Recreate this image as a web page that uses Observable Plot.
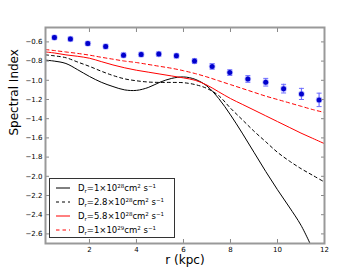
<!DOCTYPE html>
<html><head><meta charset="utf-8">
<script src="https://cdn.jsdelivr.net/npm/d3@7"></script>
<script src="https://cdn.jsdelivr.net/npm/@observablehq/plot@0.6"></script>
<style>
body{margin:0;background:#fff;}
#wrap{position:relative;width:360px;height:270px;font-family:"DejaVu Sans",sans-serif;}
#legend{position:absolute;left:49px;top:178px;width:126px;height:60px;border:1px solid #333;background:#fff;box-sizing:border-box;font-size:8.5px;color:#000;}
.row{position:absolute;left:0;height:12px;width:124px;}
.row svg{position:absolute;left:6px;top:5px;}
.row span{position:absolute;left:28px;top:0px;line-height:12px;white-space:nowrap;}
sub,sup{font-size:5.5px;line-height:0;}
sub{vertical-align:-1.5px;} sup{vertical-align:3.5px;}
</style></head>
<body><div id="wrap"></div>
<script>
// Observed spectral index points
const obsR = [0.51,1.19,1.93,2.69,3.45,4.20,4.95,5.70,6.47,7.22,7.97,8.74,9.50,10.26,11.02,11.77];
const obsIndex = [-0.555,-0.57,-0.617,-0.648,-0.738,-0.731,-0.727,-0.745,-0.80,-0.855,-0.92,-0.986,-1.02,-1.087,-1.142,-1.204];
const obsErr = [0.02,0.02,0.02,0.022,0.022,0.022,0.022,0.022,0.025,0.03,0.03,0.035,0.04,0.045,0.058,0.07];

// Model curves (radius grid)
const modelR = [0.13,0.5,1,1.5,2,2.5,3,3.5,4,4.5,5,5.5,6,6.5,7,7.5,8,8.5,9,9.5,10,10.5,11,11.5,12];
const model1e28 = [-0.79,-0.80,-0.825,-0.89,-0.96,-1.02,-1.065,-1.10,-1.105,-1.075,-1.02,-0.98,-0.965,-0.99,-1.06,-1.19,-1.36,-1.55,-1.75,-1.95,-2.14,-2.32,-2.51,-2.76,null];
const model2_8e28 = [-0.735,-0.745,-0.765,-0.81,-0.855,-0.905,-0.95,-0.985,-1.005,-1.018,-1.022,-1.022,-1.025,-1.045,-1.085,-1.16,-1.29,-1.41,-1.53,-1.64,-1.75,-1.84,-1.92,-1.99,-2.06];
const model5_8e28 = [-0.705,-0.715,-0.735,-0.75,-0.77,-0.805,-0.84,-0.87,-0.895,-0.915,-0.935,-0.955,-0.975,-1.0,-1.05,-1.12,-1.19,-1.25,-1.31,-1.37,-1.43,-1.49,-1.55,-1.605,-1.66];
const model1e29 = [-0.68,-0.69,-0.705,-0.72,-0.738,-0.76,-0.78,-0.80,-0.815,-0.835,-0.855,-0.875,-0.90,-0.93,-0.965,-1.005,-1.045,-1.085,-1.125,-1.165,-1.20,-1.235,-1.27,-1.305,-1.335];

const xTicks = [2,4,6,8,10,12];
const yTicks = [-2.6,-2.4,-2.2,-2.0,-1.8,-1.6,-1.4,-1.2,-1.0,-0.8,-0.6];
const legendLabels = [
  "D<sub>r</sub>=1×10<sup>28</sup>cm<sup>2</sup> s<sup>−1</sup>",
  "D<sub>r</sub>=2.8×10<sup>28</sup>cm<sup>2</sup> s<sup>−1</sup>",
  "D<sub>r</sub>=5.8×10<sup>28</sup>cm<sup>2</sup> s<sup>−1</sup>",
  "D<sub>r</sub>=1×10<sup>29</sup>cm<sup>2</sup> s<sup>−1</sup>"
];

const obs = obsR.map((r,i)=>({r, v: obsIndex[i], lo: obsIndex[i]-obsErr[i], hi: obsIndex[i]+obsErr[i]}));
const toRows = vals => modelR.map((r,i)=>({r, v: vals[i]})).filter(d=>d.v!=null);
const styles = [
  {vals: model1e28, stroke:"#000", dash:null},
  {vals: model2_8e28, stroke:"#000", dash:"3,3"},
  {vals: model5_8e28, stroke:"#ff0000", dash:null},
  {vals: model1e29, stroke:"#ff0000", dash:"3.5,3"}
];
const fmt = d3.format(".1f");
const capSymbol = {draw(ctx, size){ const w = 2.5; ctx.moveTo(-w,0); ctx.lineTo(w,0);} };

const chart = Plot.plot({
  width: 360, height: 270,
  marginLeft: 45, marginRight: 36, marginTop: 27, marginBottom: 27,
  style: {fontFamily: "DejaVu Sans, sans-serif", fontSize: "7px", background: "#fff", color:"#000"},
  x: {domain: [0.13, 12]},
  y: {domain: [-2.7, -0.45]},
  marks: [
    ...styles.map(s => Plot.line(toRows(s.vals), {x:"r", y:"v", stroke: s.stroke, strokeWidth: 1, strokeDasharray: s.dash, curve: "catmull-rom", clip: true})),
    Plot.ruleX(obs, {x:"r", y1:"lo", y2:"hi", stroke:"#6f6fff", strokeWidth: 1.2}),
    Plot.dot(obs, {x:"r", y:"lo", symbol: capSymbol, stroke:"#6f6fff", strokeWidth:1, fill:"none"}),
    Plot.dot(obs, {x:"r", y:"hi", symbol: capSymbol, stroke:"#6f6fff", strokeWidth:1, fill:"none"}),
    Plot.dot(obs, {x:"r", y:"v", r: 3.3, fill:"#8f8fff", fillOpacity:0.6}),
    Plot.dot(obs, {x:"r", y:"v", r: 2.5, fill:"#0000cc"}),
    Plot.axisX({anchor:"bottom", ticks: xTicks, tickSize: -4, tickPadding: 8, stroke:"#888", tickFormat: d=>String(d), label: null}),
    Plot.axisX({anchor:"top", ticks: xTicks, tickSize: -4, stroke:"#888", tickFormat: ()=>"", label: null}),
    Plot.axisY({anchor:"left", ticks: yTicks, tickSize: -4, tickPadding: 7, stroke:"#888", tickFormat: fmt, label: null}),
    Plot.axisY({anchor:"right", ticks: yTicks, tickSize: -4, stroke:"#888", tickFormat: ()=>"", label: null}),
    Plot.frame({stroke:"#999", strokeWidth: 2}),
    Plot.text(["Spectral Index"], {frameAnchor:"left", dx:-31, rotate:-90, fontSize: 12}),
    Plot.text(["r (kpc)"], {frameAnchor:"bottom", dy: 20.5, fontSize: 12})
  ]
});
const wrap = document.getElementById("wrap");
wrap.appendChild(chart);

const leg = document.createElement("div");
leg.id = "legend";
legendLabels.forEach((lab,i)=>{
  const row = document.createElement("div");
  row.className = "row";
  row.style.top = (2.5 + i*14.2) + "px";
  const s = styles[i];
  row.innerHTML = `<svg width="14" height="2"><line x1="0" y1="1" x2="14" y2="1" stroke="${s.stroke}" stroke-width="1" ${s.dash?`stroke-dasharray="${s.dash}"`:""}/></svg><span>${lab}</span>`;
  leg.appendChild(row);
});
wrap.appendChild(leg);
</script>
</body></html>
